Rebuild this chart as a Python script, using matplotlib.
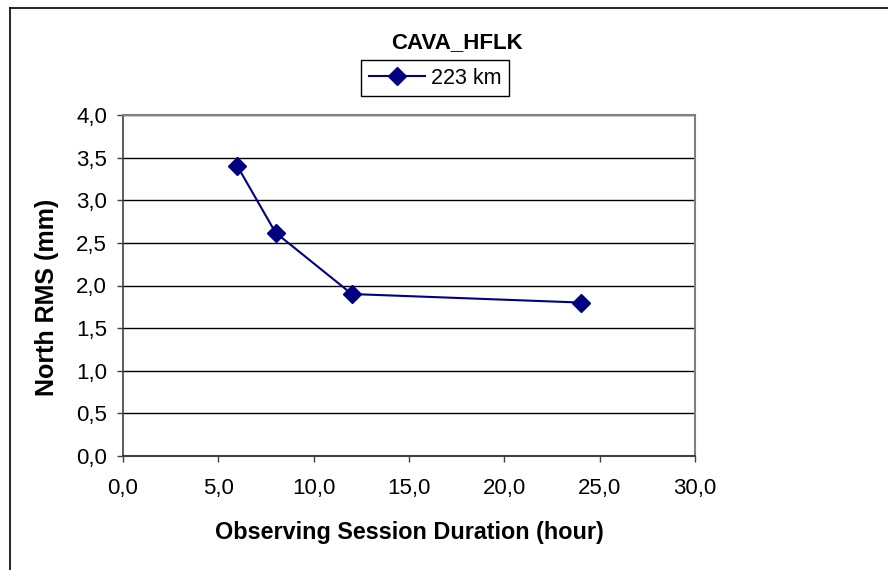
import matplotlib.pyplot as plt
from matplotlib.lines import Line2D

plt.rcParams['font.family'] = ['Liberation Sans', 'DejaVu Sans']

# session length (hours) vs north RMS (mm)
hours = [6, 8, 12, 24]
north_rms = [3.40, 2.62, 1.90, 1.80]
series_label = '223 km'
title = 'CAVA_HFLK'

W, H = 888, 570
fig = plt.figure(figsize=(W / 100, H / 100), dpi=100)

# outer chart frame (left and top edges visible)
fig.add_artist(Line2D([10 / W, 10 / W], [0, 1 - 8 / H], color='black', lw=1.2))
fig.add_artist(Line2D([10 / W, 1], [1 - 8 / H, 1 - 8 / H], color='black', lw=1.2))

left, right, top, bottom = 123, 695, 115, 456
ax = fig.add_axes([left / W, 1 - bottom / H, (right - left) / W, (bottom - top) / H])

ax.plot(hours, north_rms, color='#000080', lw=1.5, marker='D', markersize=9,
        markerfacecolor='#000080', markeredgecolor='#000080', label=series_label)

ax.set_xlim(0, 30)
ax.set_ylim(0, 4)
xt = [0, 5, 10, 15, 20, 25, 30]
yt = [0, 0.5, 1, 1.5, 2, 2.5, 3, 3.5, 4]
ax.set_xticks(xt)
ax.set_yticks(yt)
ax.set_xticklabels([f'{v:.1f}'.replace('.', ',') for v in xt], fontsize=16)
ax.set_yticklabels([f'{v:.1f}'.replace('.', ',') for v in yt], fontsize=16)
ax.tick_params(direction='out', length=4.5, width=1, color='#404040')
ax.tick_params(axis='y', pad=7)
ax.tick_params(axis='x', pad=11)

ax.yaxis.grid(True, color='black', lw=1)
ax.set_axisbelow(True)
for s in ['top', 'right']:
    ax.spines[s].set_color('#808080')
    ax.spines[s].set_linewidth(1.5)
ax.spines['left'].set_color('#404040')
ax.spines['bottom'].set_color('#404040')
ax.spines['left'].set_linewidth(1.2)
ax.spines['bottom'].set_linewidth(1.5)

fig.text(409 / W, 1 - 533 / H, 'Observing Session Duration (hour)', fontsize=16.8,
         fontweight='bold', ha='center', va='center')
fig.text(47 / W, 1 - 297 / H, 'North RMS (mm)', fontsize=18, fontweight='bold',
         ha='center', va='center', rotation=90)

fig.text(457 / W, 1 - 43 / H, title, fontsize=16, fontweight='bold', ha='center', va='center')

leg = fig.legend(loc='center', bbox_to_anchor=(435 / W, 1 - 78 / H), fontsize=15.5,
                 frameon=True, fancybox=False, edgecolor='black', framealpha=1,
                 handlelength=2.6, borderpad=0.35, handletextpad=0.3)
leg.get_frame().set_linewidth(1)

fig.savefig('out.png', dpi=100)
